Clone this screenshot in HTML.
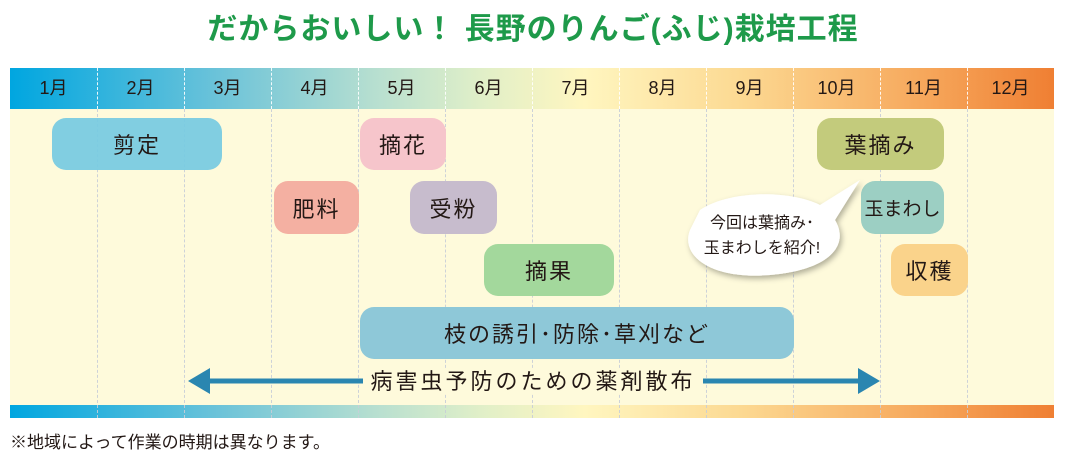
<!DOCTYPE html>
<html><head><meta charset="utf-8"><style>
*{margin:0;padding:0;box-sizing:border-box}
body{width:1066px;height:458px;background:#fff;position:relative;overflow:hidden;font-family:"Liberation Sans","Noto Sans CJK JP",sans-serif;color:#231815}
.t{position:absolute;left:0;width:1066px;top:4px;text-align:center;font-size:30px;font-weight:bold;color:#1e9a4a;letter-spacing:1px}
.hd{position:absolute;left:10px;top:68px;width:1044px;height:41px;background:linear-gradient(90deg,#00a6e0 0%,#6cc3d9 20%,#b7dfd0 35%,#e0efc8 45%,#fff6c0 55%,#fcd992 70%,#f6a65a 88%,#ef7f33 100%)}
.m{position:absolute;top:68px;height:41px;line-height:41px;width:87px;text-align:center;font-size:18px}
.bd{position:absolute;left:10px;top:109px;width:1044px;height:296px;background:#fefadb}
.bt{position:absolute;left:10px;top:405px;width:1044px;height:13px;background:linear-gradient(90deg,#00a6e0 0%,#6cc3d9 20%,#b7dfd0 35%,#e0efc8 45%,#fff6c0 55%,#fcd992 70%,#f6a65a 88%,#ef7f33 100%)}
.dv{position:absolute;top:109px;height:309px;border-left:1.5px dashed rgba(200,205,215,.9)}
.dh{position:absolute;top:68px;height:41px;border-left:1.5px dashed rgba(255,255,255,.9)}
.b{position:absolute;border-radius:14px;display:flex;align-items:center;justify-content:center;font-size:22px;letter-spacing:2px}
.fn{position:absolute;left:10px;top:428px;font-size:17px}
</style></head><body>
<div class="t">だからおいしい！ 長野のりんご(ふじ)栽培工程</div>
<div class="hd"></div><div class="bd"></div><div class="bt"></div>
<div class="m" style="left:10px">1月</div><div class="m" style="left:97px">2月</div><div class="m" style="left:184px">3月</div><div class="m" style="left:271px">4月</div><div class="m" style="left:358px">5月</div><div class="m" style="left:445px">6月</div><div class="m" style="left:532px">7月</div><div class="m" style="left:619px">8月</div><div class="m" style="left:706px">9月</div><div class="m" style="left:793px">10月</div><div class="m" style="left:880px">11月</div><div class="m" style="left:967px">12月</div>
<div class="dv" style="left:97px"></div><div class="dv" style="left:184px"></div><div class="dv" style="left:271px"></div><div class="dv" style="left:358px"></div><div class="dv" style="left:445px"></div><div class="dv" style="left:532px"></div><div class="dv" style="left:619px"></div><div class="dv" style="left:706px"></div><div class="dv" style="left:793px"></div><div class="dv" style="left:880px"></div><div class="dv" style="left:967px"></div>
<div class="dh" style="left:97px"></div><div class="dh" style="left:184px"></div><div class="dh" style="left:271px"></div><div class="dh" style="left:358px"></div><div class="dh" style="left:445px"></div><div class="dh" style="left:532px"></div><div class="dh" style="left:619px"></div><div class="dh" style="left:706px"></div><div class="dh" style="left:793px"></div><div class="dh" style="left:880px"></div><div class="dh" style="left:967px"></div>
<div class="b" style="left:52px;top:118px;width:170px;height:52px;background:rgba(118,202,226,.92)">剪定</div>
<div class="b" style="left:360px;top:118px;width:86px;height:52px;background:#f6c5cb">摘花</div>
<div class="b" style="left:274px;top:181px;width:85px;height:53px;background:#f4b0a2">肥料</div>
<div class="b" style="left:410px;top:181px;width:87px;height:53px;background:#c7bccd">受粉</div>
<div class="b" style="left:484px;top:244px;width:130px;height:52px;background:#a3d89c">摘果</div>
<div class="b" style="left:360px;top:307px;width:434px;height:52px;background:#8ec8d8">枝の誘引･防除･草刈など</div>
<div class="b" style="left:817px;top:118px;width:127px;height:52px;background:#c3cb7c">葉摘み</div>
<div class="b" style="left:861px;top:181px;width:83px;height:53px;background:#9ccfc3;font-size:19px;letter-spacing:0">玉まわし</div>
<div class="b" style="left:891px;top:244px;width:77px;height:52px;background:#fad38b">収穫</div>
<svg style="position:absolute;left:0;top:0" width="1066" height="458">
<defs><filter id="s"><feDropShadow dx="2" dy="3" stdDeviation="3" flood-opacity=".3"/></filter></defs>
<path d="M700,210 C730,190 790,190 820,205 L860,180 L835,220 C850,245 830,270 770,275 C710,280 680,255 690,230 Z" fill="#fff" filter="url(#s)"/>
<text x="762" y="228" font-size="16" text-anchor="middle" fill="#231815" font-family="Liberation Sans,Noto Sans CJK JP,sans-serif">今回は葉摘み･</text>
<text x="762" y="253" font-size="16" text-anchor="middle" fill="#231815" font-family="Liberation Sans,Noto Sans CJK JP,sans-serif">玉まわしを紹介!</text>
<line x1="205" y1="381" x2="862" y2="381" stroke="#2a86b0" stroke-width="5"/>
<polygon points="188,381 210,368 210,394" fill="#2a86b0"/>
<polygon points="880,381 858,368 858,394" fill="#2a86b0"/>
<rect x="363" y="368" width="340" height="26" fill="#fefadb"/>
<text x="533" y="389" font-size="22" text-anchor="middle" fill="#231815" letter-spacing="3" font-family="Liberation Sans,Noto Sans CJK JP,sans-serif">病害虫予防のための薬剤散布</text>
</svg>
<div class="fn">※地域によって作業の時期は異なります。</div>
</body></html>
